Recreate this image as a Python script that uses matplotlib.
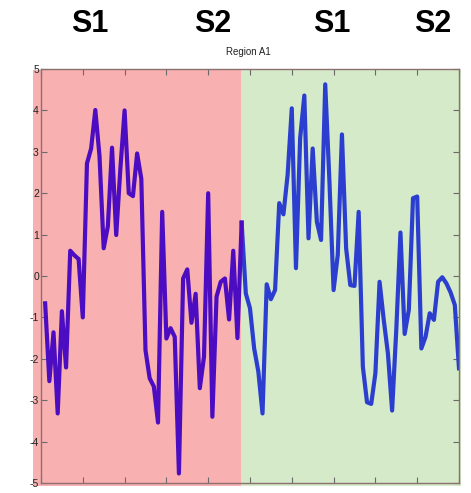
import numpy as np
import matplotlib
matplotlib.use("Agg")
import matplotlib.pyplot as plt

# signal samples, one per index 1..100
values = [
    -0.66, -2.54, -1.36, -3.32, -0.85, -2.21, 0.61, 0.50, 0.41, -1.00,
    2.72, 3.08, 4.01, 2.90, 0.67, 1.20, 3.10, 0.99, 2.60, 4.00,
    2.00, 1.93, 2.96, 2.35, -1.79, -2.47, -2.67, -3.54, 1.55, -1.51,
    -1.26, -1.47, -4.77, -0.06, 0.16, -1.13, -0.43, -2.71, -1.95, 2.00,
    -3.40, -0.50, -0.14, -0.06, -1.05, 0.61, -1.50, 1.29, -0.42, -0.78,
    -1.75, -2.31, -3.32, -0.20, -0.56, -0.34, 1.76, 1.49, 2.44, 4.05,
    0.19, 3.33, 4.36, 0.91, 3.08, 1.31, 0.87, 4.63, 2.30, -0.34,
    0.51, 3.42, 0.67, -0.22, -0.24, 1.55, -2.19, -3.05, -3.09, -2.35,
    -0.14, -1.06, -1.87, -3.25, -1.30, 1.05, -1.40, -0.82, 1.88, 1.92,
    -1.75, -1.47, -0.90, -1.06, -0.14, -0.03, -0.18, -0.40, -0.70, -2.23,
]
split_at = 48          # last sample of the first (red) region
top_labels = ["S1", "S2", "S1", "S2"]
title = "Region A1"
yticks = list(range(-5, 6))

x = np.arange(1, len(values) + 1)
y = np.array(values)

fig = plt.figure(figsize=(4.71, 4.93), dpi=100)
ax = fig.add_axes([0.087, 0.0203, 0.8875, 0.8397])
ax.set_xlim(0, 100)
ax.set_ylim(-5, 5)

# background regions (spill a little outside the axes like the original)
ax.axvspan(-2.0, split_at - 0.2, ymin=-0.007, ymax=0.997, color="#f9b0b0",
           clip_on=False, zorder=0, lw=0)
ax.axvspan(split_at - 0.2, 100.5, ymin=-0.007, ymax=0.997, color="#d4eac8",
           clip_on=False, zorder=0, lw=0)

# signal: purple in first region, blue in second
m1 = x <= split_at
m2 = x >= split_at
ax.plot(x[m2], y[m2], color="#2b3ecf", lw=3.0, zorder=3, solid_joinstyle="round")
ax.plot(x[m1], y[m1], color="#4b0cc2", lw=3.0, zorder=4, solid_joinstyle="round")

ax.set_xticks(np.arange(0, 101, 10))
ax.set_xticklabels([])
ax.set_yticks(yticks)
ax.set_yticklabels([str(v) for v in yticks], fontsize=7.5,
                   family=["Liberation Sans Narrow", "Liberation Sans", "DejaVu Sans"])
ax.tick_params(direction="in", length=4, width=0.8, colors="#6a6a6a",
               labelcolor="#222222", top=True, right=True, pad=1.5)
for s in ax.spines.values():
    s.set_color("#8a7070")
    s.set_linewidth(1.0)
    s.set_zorder(5)
ax.set_facecolor("white")

fig.text(248 / 471, 1 - 52 / 493, title, ha="center", va="center", fontsize=7,
         family=["Liberation Sans Narrow", "Liberation Sans", "DejaVu Sans"],
         color="#222222")

for lbl, px in zip(top_labels, [90, 213, 332, 433]):
    fig.text(px / 471, 1 - 24 / 493, lbl, ha="center", va="center",
             fontsize=22, fontweight="bold",
             family=["Liberation Sans", "DejaVu Sans"])

fig.savefig("out.png", dpi=100)
